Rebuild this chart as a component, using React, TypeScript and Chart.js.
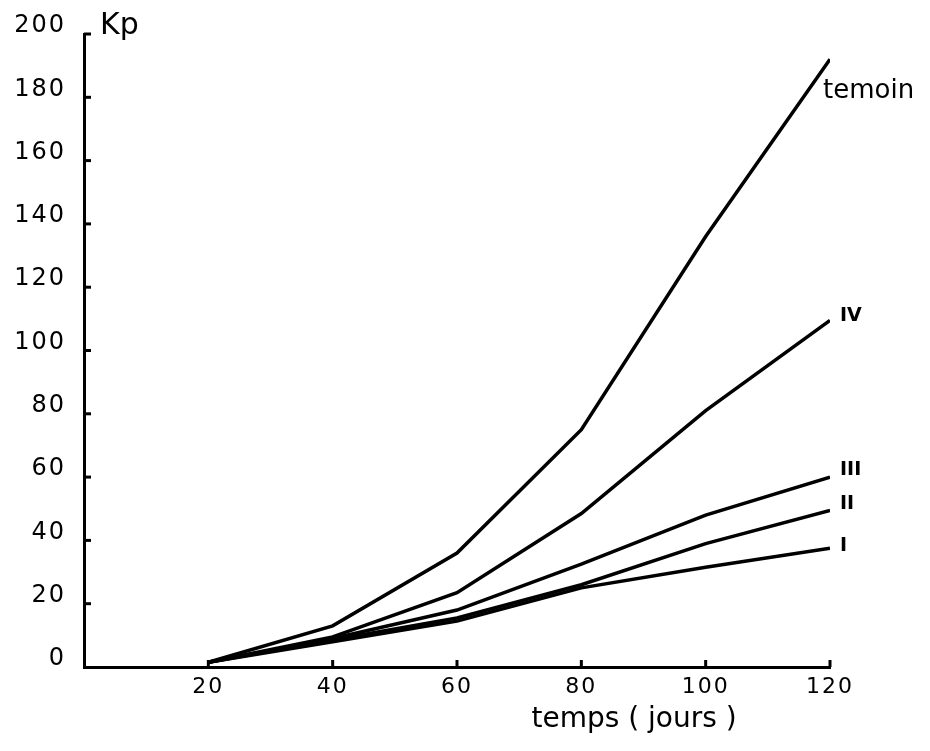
import React, { useEffect, useRef } from "react";
import { Chart, registerables } from "chart.js";

Chart.register(...registerables);

const days = [20, 40, 60, 80, 100, 120];
const temoin = [1.5, 13, 36, 75, 136, 192];
const seriesIV = [1.5, 9.5, 23.5, 48.5, 81, 109.5];
const seriesIII = [1.5, 9, 18, 32.5, 48, 60];
const seriesII = [1.5, 8.5, 15.5, 26, 39, 49.5];
const seriesI = [1.5, 8, 14.5, 25, 31.5, 37.5];
const seriesNames = ["temoin", "IV", "III", "II", "I"];
const xTickValuesShown = [20, 40, 60, 80, 100, 120];
const yTitle = "Kp";
const xTitle = "temps ( jours )";

const FONT = "'DejaVu Sans', sans-serif";

const labelStyle: Record<string, { dx: number; dy: number; size: number; weight: string }> = {
  temoin: { dx: -7, dy: 32, size: 26, weight: "normal" },
  IV: { dx: 10, dy: -4, size: 19, weight: "bold" },
  III: { dx: 10, dy: -7, size: 19, weight: "bold" },
  II: { dx: 10, dy: -6, size: 19, weight: "bold" },
  I: { dx: 10, dy: -2, size: 19, weight: "bold" },
};

const spacingPlugin = {
  id: "spacing",
  beforeDraw(chart: any) {
    (chart.ctx as any).letterSpacing = "2px";
  },
};

const decorPlugin = {
  id: "decor",
  afterDatasetsDraw(chart: any) {
    const ctx = chart.ctx;
    const xs = chart.scales.x;
    const ys = chart.scales.y;
    const area = chart.chartArea;
    ctx.save();
    (ctx as any).letterSpacing = "0px";
    ctx.strokeStyle = "#000";
    ctx.lineWidth = 3;
    for (let v = 20; v <= 200; v += 20) {
      const py = ys.getPixelForValue(v);
      ctx.beginPath();
      ctx.moveTo(area.left, py);
      ctx.lineTo(area.left + 7, py);
      ctx.stroke();
    }
    for (let v = 20; v <= 120; v += 20) {
      const px = xs.getPixelForValue(v);
      ctx.beginPath();
      ctx.moveTo(px, area.bottom);
      ctx.lineTo(px, area.bottom - 7);
      ctx.stroke();
    }
    ctx.fillStyle = "#000";
    ctx.textBaseline = "middle";
    ctx.textAlign = "left";
    chart.data.datasets.forEach((ds: any, i: number) => {
      const meta = chart.getDatasetMeta(i);
      const last = meta.data[meta.data.length - 1];
      const st = labelStyle[ds.label];
      ctx.font = `${st.weight} ${st.size}px ${FONT}`;
      ctx.fillText(ds.label, last.x + st.dx, last.y + st.dy);
    });
    ctx.font = `30px ${FONT}`;
    ctx.textBaseline = "alphabetic";
    ctx.textAlign = "left";
    ctx.fillText(yTitle, area.left + 16, area.top);
    ctx.font = `28px ${FONT}`;
    ctx.textAlign = "center";
    ctx.textBaseline = "middle";
    ctx.fillText(xTitle, 634, 720);
    ctx.restore();
  },
};

export default function App() {
  const ref = useRef<HTMLCanvasElement>(null);
  useEffect(() => {
    if (!ref.current) return;
    const all = [temoin, seriesIV, seriesIII, seriesII, seriesI];
    const chart = new Chart(ref.current, {
      type: "line",
      data: {
        datasets: all.map((arr, i) => ({
          label: seriesNames[i],
          data: arr.map((y, j) => ({ x: days[j], y })),
          borderColor: "#000",
          borderWidth: 3.5,
          pointRadius: 0,
          tension: 0,
          fill: false,
        })),
      },
      options: {
        responsive: false,
        animation: false,
        layout: { padding: { top: 34, right: 100, bottom: 0, left: 0 } },
        plugins: { legend: { display: false }, tooltip: { enabled: false } },
        scales: {
          x: {
            type: "linear",
            min: 0,
            max: 120,
            ticks: {
              stepSize: 20,
              color: "#000",
              font: { family: FONT, size: 22 },
              padding: 7,
              maxRotation: 0,
              callback: (v: any) => (xTickValuesShown.includes(v) ? String(v) : ""),
            },
            grid: { display: false, drawTicks: false },
            border: { display: true, color: "#000", width: 3 },
            afterFit: (s: any) => { s.height = 84; },
          },
          y: {
            min: 0,
            max: 200,
            ticks: {
              stepSize: 20,
              color: "#000",
              font: { family: FONT, size: 24 },
              padding: 18,
              labelOffset: -8,
              callback: (v: any) => String(v),
            },
            grid: { display: false, drawTicks: false },
            border: { display: true, color: "#000", width: 3 },
            afterFit: (s: any) => { s.width = 84; },
          },
        },
      },
      plugins: [spacingPlugin, decorPlugin],
    });
    return () => chart.destroy();
  }, []);
  return (
    <div style={{ position: "absolute", left: 0, top: 0, width: 930, height: 751, background: "#fff" }}>
      <canvas ref={ref} width={930} height={751} style={{ display: "block" }} />
    </div>
  );
}
